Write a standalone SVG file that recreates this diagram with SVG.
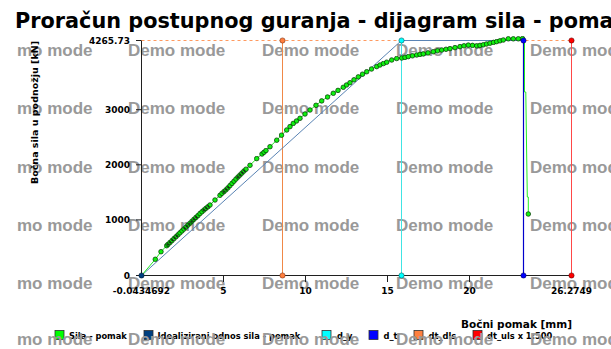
<svg xmlns="http://www.w3.org/2000/svg" width="611" height="349" viewBox="0 0 611 349">
<style>
.wm{font-family:"Liberation Sans",Arial,sans-serif;font-weight:bold;font-size:17px;fill:#999}
.lbl{font-family:"DejaVu Sans",Verdana,sans-serif;font-weight:bold;font-size:9px;fill:#000}
.leg{font-family:"DejaVu Sans",Verdana,sans-serif;font-weight:bold;font-size:8.3px;fill:#000}
.ax{stroke:#202020;stroke-width:1;fill:none}
.sq{stroke:#303030;stroke-width:0.8}
</style>
<defs>
<marker id="gd" markerUnits="userSpaceOnUse" markerWidth="6" markerHeight="6" refX="3" refY="3" viewBox="0 0 6 6">
<circle cx="3" cy="3" r="2.3" fill="#10f010" stroke="#003000" stroke-width="0.7"/>
</marker>
</defs>
<rect width="611" height="349" fill="#fff"/>
<g id="title"><text x="15" y="28" font-family="DejaVu Sans, Verdana, sans-serif" font-weight="bold" font-size="20.8" fill="#000">Proračun postupnog guranja - dijagram sila - pomak</text></g>
<g id="legend">
<rect class="sq" x="55" y="330.5" width="9" height="9" fill="#00ff00"/><text class="leg" x="69" y="338.5">Sila - pomak</text>
<rect class="sq" x="144" y="330.5" width="9" height="9" fill="#003f7f"/><text class="leg" x="157.5" y="338.5">Idealizirani odnos sila - pomak</text>
<rect class="sq" x="322" y="330.5" width="9" height="9" fill="#00ffff"/><text class="leg" x="337" y="338.5">d_y</text>
<rect class="sq" x="369" y="330.5" width="9" height="9" fill="#0000ff"/><text class="leg" x="383.5" y="338.5">d_t</text>
<rect class="sq" x="414" y="330.5" width="9" height="9" fill="#ff8040"/><text class="leg" x="428.5" y="338.5">dt_dls</text>
<rect class="sq" x="473" y="330.5" width="9" height="9" fill="#ff0000"/><text class="leg" x="487" y="338.5">dt_uls x 1:500</text>
</g>
<g id="watermark">
<text class="wm" x="17" y="56">mo mode</text><text class="wm" x="128" y="56">Demo mode</text><text class="wm" x="262" y="56">Demo mode</text><text class="wm" x="396" y="56">Demo mode</text><text class="wm" x="530" y="56">Demo mode</text>
<text class="wm" x="17" y="114">mo mode</text><text class="wm" x="128" y="114">Demo mode</text><text class="wm" x="262" y="114">Demo mode</text><text class="wm" x="396" y="114">Demo mode</text><text class="wm" x="530" y="114">Demo mode</text>
<text class="wm" x="17" y="173">mo mode</text><text class="wm" x="128" y="173">Demo mode</text><text class="wm" x="262" y="173">Demo mode</text><text class="wm" x="396" y="173">Demo mode</text><text class="wm" x="530" y="173">Demo mode</text>
<text class="wm" x="17" y="231">mo mode</text><text class="wm" x="128" y="231">Demo mode</text><text class="wm" x="262" y="231">Demo mode</text><text class="wm" x="396" y="231">Demo mode</text><text class="wm" x="530" y="231">Demo mode</text>
<text class="wm" x="17" y="289">mo mode</text><text class="wm" x="128" y="289">Demo mode</text><text class="wm" x="262" y="289">Demo mode</text><text class="wm" x="396" y="289">Demo mode</text><text class="wm" x="530" y="289">Demo mode</text>
<text class="wm" x="17" y="345">mo mode</text><text class="wm" x="128" y="345">Demo mode</text><text class="wm" x="262" y="345">Demo mode</text><text class="wm" x="396" y="345">Demo mode</text><text class="wm" x="530" y="345">Demo mode</text>
</g>
<g id="axes">
<path class="ax" d="M141.5,40V275.5H571.5"/>
<path class="ax" d="M136,40.5H141.5M136,109.7H141.5M136,164.8H141.5M136,219.9H141.5M136,275.5H141.5"/>
<path class="ax" d="M223.5,275.5V282M305.5,275.5V282M387.5,275.5V282M469.5,275.5V282"/>
<text class="lbl" x="130" y="43.5" text-anchor="end">4265.73</text>
<text class="lbl" x="130" y="113" text-anchor="end">3000</text>
<text class="lbl" x="130" y="168" text-anchor="end">2000</text>
<text class="lbl" x="130" y="223" text-anchor="end">1000</text>
<text class="lbl" x="130" y="278.5" text-anchor="end">0</text>
<text class="lbl" x="141.5" y="294" text-anchor="middle">-0.0434692</text>
<text class="lbl" x="223.5" y="294" text-anchor="middle">5</text>
<text class="lbl" x="305.5" y="294" text-anchor="middle">10</text>
<text class="lbl" x="387.5" y="294" text-anchor="middle">15</text>
<text class="lbl" x="469.5" y="294" text-anchor="middle">20</text>
<text class="lbl" x="571.5" y="294" text-anchor="middle">26.2749</text>
<text x="37.5" y="112.5" transform="rotate(-90 37.5 112.5)" text-anchor="middle" font-family="DejaVu Sans, Verdana, sans-serif" font-weight="bold" font-size="9.5" fill="#000">Bočna sila u podnožju [kN]</text>
<text x="572" y="327.5" text-anchor="end" font-family="DejaVu Sans, Verdana, sans-serif" font-weight="bold" font-size="10.5" fill="#000">Bočni pomak [mm]</text>
</g>
<g id="connectors">
<path d="M141.5,40.5H571.5" stroke="#ff9a60" stroke-width="1" stroke-dasharray="3,3" fill="none"/>
<path d="M282.5,40.5V275.5" stroke="#f08848" stroke-width="1"/>
<path d="M401.5,40.5V275.5" stroke="#40e4e4" stroke-width="1"/>
<path d="M523.5,40.5V275.5" stroke="#0000cc" stroke-width="1.2"/>
<path d="M571.5,40.5V275.5" stroke="#ff4848" stroke-width="1"/>
<path d="M141.5,275.5L401.5,40.5H523.5" stroke="#5a84b4" stroke-width="1" fill="none"/>
<path d="M141.5,275.5L155.3,259.3" stroke="#22ee22" stroke-width="1" fill="none"/>
<path d="M522.5,38.6L524.5,40L524.5,92L525.8,92L526.6,150L527.3,197L528.3,197L528.3,214" stroke="#22ee22" stroke-width="1" fill="none"/>
<polyline fill="none" stroke="#22ee22" stroke-width="1" marker-start="url(#gd)" marker-mid="url(#gd)" marker-end="url(#gd)" points="155.3,259.3 161,251.7 166.7,245.7 168,244.4 170,242.5 172,240.6 174,238.6 176,236.7 178,234.8 180,232.8 182,230.9 184,229 186,227 188,225.1 190,223.2 192,221.2 194,219.3 196,217.4 198,215.6 200,213.5 202,211.7 204,210 206,208.3 208,206.7 210,205 215,200 220,195.3 222,193.3 224,191.6 226,189.8 228,187.8 230,185.6 232,183.4 234,181.2 236,179 238,177 240,175 242,173 244,171 246,169.2 250,165.3 256.7,158.6 262,154 264,152.3 266,150.5 270,146.7 276.7,140.2 281.5,135.2 286.7,130 290,126.6 293.3,123.4 296.5,121 300,118.3 305,114 310,110 316,105.3 321.7,100.9 327.5,97 333.3,93.3 338,90.4 343.3,87.3 346.5,85 350,82.7 354,79.8 358.3,76.9 362.5,74.2 366.7,71.7 371.5,69 376.7,66.6 380,65 383.5,63.5 386.7,62.2 391.7,60 396.7,58.5 401.7,58 405,57.4 408.3,56.6 412.5,55.8 416.7,55 420,54.4 423.3,53.9 428,52.9 433.3,51.7 437.5,50.8 441.7,50 446,49.3 450,48.6 455,47.6 460,46.6 464,45.8 468.3,45.1 472.5,45.4 476.7,45.8 480,45.4 483.3,44.8 486.5,44 490,43.2 493.5,42.4 496.7,41.6 500,40.8 503.3,40 508.3,38.8 513.3,38.8 518.3,38.8 522.5,38.6"/>
<path d="M167,245.3L178,234.8M184,229L198,215.6M203,210.8L209,205.8M223,192.5L229,186.8M237,178L245,170.1" stroke="#1a1a1a" stroke-width="2.6" stroke-dasharray="2,1.2" opacity="0.8" fill="none"/>
<circle cx="528.3" cy="214" r="2.3" fill="#10f010" stroke="#003000" stroke-width="0.7"/>
</g>
<g id="markers">
<circle cx="141.5" cy="275.5" r="2.6" fill="#003f7f" stroke="#001830" stroke-width="0.6"/>
<circle cx="282.5" cy="40.5" r="2.6" fill="#ff8040" stroke="#803010" stroke-width="0.6"/>
<circle cx="282.5" cy="275.5" r="2.6" fill="#ff8040" stroke="#803010" stroke-width="0.6"/>
<circle cx="401.5" cy="40.5" r="2.6" fill="#00ffff" stroke="#006060" stroke-width="0.6"/>
<circle cx="401.5" cy="275.5" r="2.6" fill="#00ffff" stroke="#006060" stroke-width="0.6"/>
<circle cx="523.5" cy="40.5" r="2.6" fill="#0000ff" stroke="#000060" stroke-width="0.6"/>
<circle cx="523.5" cy="275.5" r="2.6" fill="#0000ff" stroke="#000060" stroke-width="0.6"/>
<circle cx="571.5" cy="40.5" r="2.6" fill="#ff0000" stroke="#600000" stroke-width="0.6"/>
<circle cx="571.5" cy="275.5" r="2.6" fill="#ff0000" stroke="#600000" stroke-width="0.6"/>
</g>
</svg>
